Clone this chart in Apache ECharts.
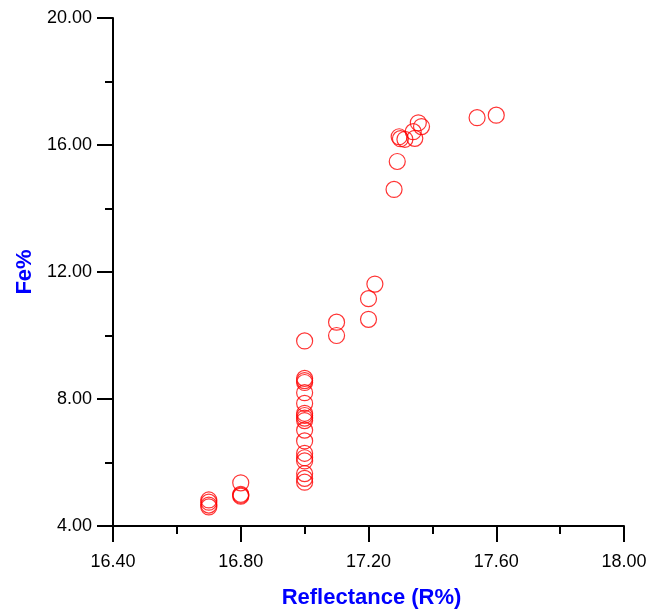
<!DOCTYPE html>
<html>
<head>
<meta charset="utf-8">
<script src="https://cdn.jsdelivr.net/npm/echarts@6/dist/echarts.min.js"></script>
<style>
  html, body { margin: 0; padding: 0; background: #fff; }
  #chart { width: 661px; height: 609px; }
</style>
</head>
<body>
<div id="chart"></div>
<script>
// reflectance (R%) of each sample
const reflectance = [
  16.70, 16.70, 16.70, 16.70,
  16.80, 16.80, 16.80, 16.80,
  17.00, 17.00, 17.00, 17.00, 17.00, 17.00, 17.00, 17.00, 17.00,
  17.00, 17.00, 17.00, 17.00, 17.00, 17.00, 17.00, 17.00, 17.00,
  17.10, 17.10,
  17.20, 17.20, 17.22,
  17.28, 17.29,
  17.296, 17.30, 17.314, 17.345, 17.34, 17.356, 17.366,
  17.54, 17.60
]
// Fe% of each sample
const iron = [
  4.82, 4.75, 4.66, 4.60,
  5.36, 5.00, 4.97, 4.94,
  9.83, 8.65, 8.58, 8.52, 8.20, 7.86, 7.55, 7.48, 7.40,
  7.32, 7.02, 6.68, 6.29, 6.15, 6.05, 5.65, 5.50, 5.38,
  10.42, 10.00,
  11.16, 10.51, 11.62,
  14.60, 15.48,
  16.26, 16.20, 16.18, 16.21, 16.42, 16.70, 16.58,
  16.86, 16.94
]
const xTicks = [16.4, 18.0, 0.4]
const yTicks = [4, 20, 4]

const points = reflectance.map((r, i) => [r, iron[i]])
const font = 'Liberation Sans, Arial, Helvetica, sans-serif'

const chart = echarts.init(document.getElementById('chart'))
chart.setOption({
  animation: false,
  grid: { left: 113, right: 37, top: 18, bottom: 83, outerBoundsMode: 'none' },
  xAxis: {
    type: 'value',
    min: xTicks[0], max: xTicks[1], interval: xTicks[2],
    name: 'Reflectance (R%)',
    nameLocation: 'middle',
    nameGap: 61,
    nameTextStyle: { color: '#0000ff', fontSize: 22, fontWeight: 'bold', fontFamily: font, padding: [0, 0, 0, 6] },
    axisLine: { onZero: false, lineStyle: { color: '#000', width: 2 } },
    axisTick: { length: 16, lineStyle: { color: '#000', width: 2 } },
    minorTick: { show: true, splitNumber: 2, length: 8, lineStyle: { color: '#000', width: 2 } },
    axisLabel: { margin: 27, color: '#000', fontSize: 18, fontFamily: font, formatter: v => v.toFixed(2) },
    splitLine: { show: false }
  },
  yAxis: {
    type: 'value',
    min: yTicks[0], max: yTicks[1], interval: yTicks[2],
    name: 'Fe%',
    nameLocation: 'middle',
    nameGap: 75,
    nameTextStyle: { color: '#0000ff', fontSize: 22, fontWeight: 'bold', fontFamily: font },
    axisLine: { onZero: false, lineStyle: { color: '#000', width: 2 } },
    axisTick: { length: 16, lineStyle: { color: '#000', width: 2 } },
    minorTick: { show: true, splitNumber: 2, length: 8, lineStyle: { color: '#000', width: 2 } },
    axisLabel: { margin: 21, color: '#000', fontSize: 18, fontFamily: font, formatter: v => v.toFixed(2) },
    splitLine: { show: false }
  },
  series: [{
    type: 'scatter',
    data: points,
    symbol: 'circle',
    symbolSize: 16,
    itemStyle: { color: 'rgba(0,0,0,0)', borderColor: '#ff0000', borderWidth: 1.2 }
  }]
})
</script>
</body>
</html>
